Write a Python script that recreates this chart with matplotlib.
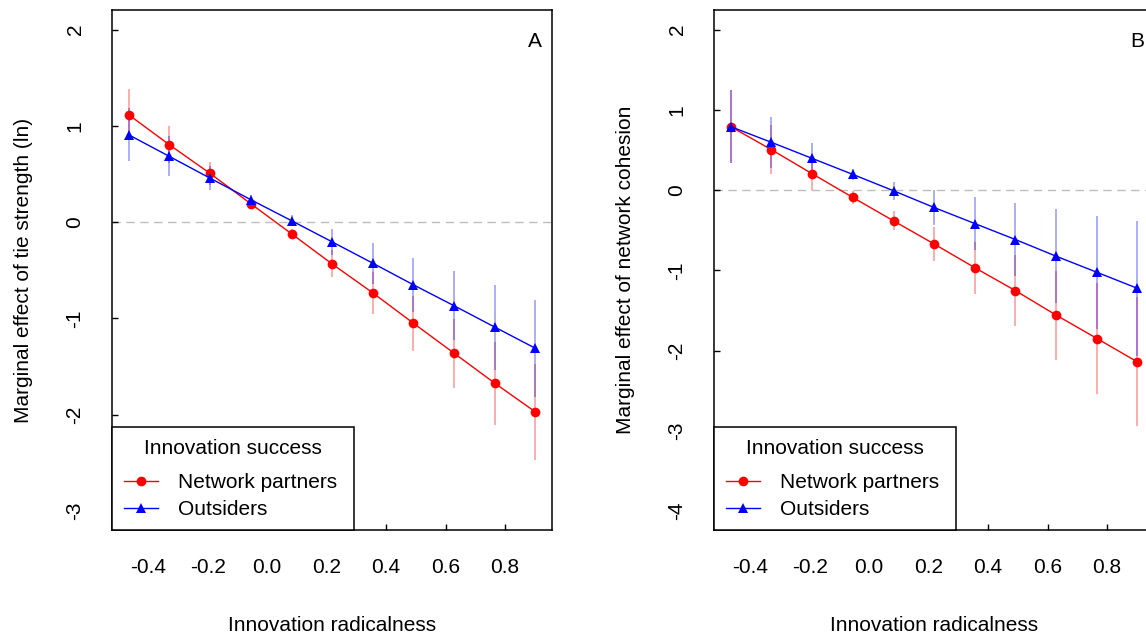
import matplotlib
matplotlib.use("Agg")
import matplotlib.pyplot as plt

plt.rcParams['font.family'] = ['Liberation Sans', 'DejaVu Sans']
plt.rcParams['font.size'] = 15
plt.rcParams['axes.unicode_minus'] = False

# ---------------- data ----------------
radicalness = [-0.466, -0.329, -0.192, -0.055, 0.082, 0.218, 0.355, 0.492, 0.629, 0.766, 0.902]

tie_partners = [1.116, 0.804, 0.506, 0.191, -0.121, -0.433, -0.734, -1.050, -1.362, -1.674, -1.971]
tie_partners_ci = [0.263, 0.190, 0.118, 0.048, 0.055, 0.139, 0.218, 0.283, 0.359, 0.429, 0.499]
tie_outsiders = [0.908, 0.683, 0.457, 0.233, 0.015, -0.204, -0.426, -0.651, -0.869, -1.091, -1.310]
tie_outsiders_ci = [0.277, 0.208, 0.127, 0.050, 0.060, 0.132, 0.212, 0.281, 0.357, 0.440, 0.506]

coh_partners = [0.791, 0.504, 0.204, -0.092, -0.384, -0.671, -0.967, -1.254, -1.559, -1.850, -2.142]
coh_partners_ci = [0.450, 0.304, 0.204, 0.080, 0.120, 0.210, 0.325, 0.442, 0.554, 0.690, 0.804]
coh_outsiders = [0.791, 0.595, 0.395, 0.195, -0.009, -0.217, -0.417, -0.617, -0.825, -1.025, -1.225]
coh_outsiders_ci = [0.450, 0.318, 0.190, 0.070, 0.110, 0.217, 0.333, 0.450, 0.587, 0.704, 0.841]

x_ticks = [-0.4, -0.2, 0.0, 0.2, 0.4, 0.6, 0.8]
x_tick_labels = ["-0.4", "-0.2", "0.0", "0.2", "0.4", "0.6", "0.8"]

series_labels = ["Network partners", "Outsiders"]
legend_title = "Innovation success"
x_label = "Innovation radicalness"

panels = [
    dict(tag="A", ylabel="Marginal effect of tie strength (ln)",
         partners=tie_partners, partners_ci=tie_partners_ci,
         outsiders=tie_outsiders, outsiders_ci=tie_outsiders_ci,
         ylim=(-3, 2), yticks=[-3, -2, -1, 0, 1, 2]),
    dict(tag="B", ylabel="Marginal effect of network cohesion",
         partners=coh_partners, partners_ci=coh_partners_ci,
         outsiders=coh_outsiders, outsiders_ci=coh_outsiders_ci,
         ylim=(-4, 2), yticks=[-4, -3, -2, -1, 0, 1, 2]),
]

W, H = 1146, 637
fig = plt.figure(figsize=(W / 100, H / 100), dpi=100)
fig.patch.set_facecolor("white")

ax_w = 439.4 / W
ax_h = 520.0 / H
ax_b = (H - 530.3) / H
lefts = [112.3 / W, 714.3 / W]

for p, left in zip(panels, lefts):
    ax = fig.add_axes([left, ax_b, ax_w, ax_h])
    x = radicalness
    pr, pc = p["partners"], p["partners_ci"]
    ou, oc = p["outsiders"], p["outsiders_ci"]

    ax.axhline(0, color="#bdbdbd", lw=1.0, dashes=(6, 4), zorder=1)

    ax.vlines(x, [a - b for a, b in zip(pr, pc)], [a + b for a, b in zip(pr, pc)],
              colors="red", alpha=0.38, lw=1.2, zorder=2)
    ax.vlines(x, [a - b for a, b in zip(ou, oc)], [a + b for a, b in zip(ou, oc)],
              colors="blue", alpha=0.38, lw=1.2, zorder=2)

    l1, = ax.plot(x, pr, color="red", lw=1.0, marker="o", markersize=7,
                  markeredgewidth=0, zorder=3, label=series_labels[0])
    l2, = ax.plot(x, ou, color="blue", lw=1.0, marker="^", markersize=7.5,
                  markeredgewidth=0, zorder=4, label=series_labels[1])

    ax.margins(x=0.04)
    lo, hi = p["ylim"]
    ext = 0.04 * (hi - lo)
    ax.set_ylim(lo - ext, hi + ext)

    ax.set_xticks(x_ticks)
    ax.set_xticklabels(x_tick_labels)
    ax.set_yticks(p["yticks"])
    ax.set_yticklabels([str(v) for v in p["yticks"]])

    ax.tick_params(axis="both", direction="in", length=4, width=1.0, colors="black")
    ax.tick_params(axis="x", pad=20)
    ax.tick_params(axis="y", pad=20)
    for lab in ax.get_yticklabels():
        lab.set_rotation(90)
        lab.set_va("center")

    for s in ax.spines.values():
        s.set_linewidth(1.1)
        s.set_color("black")

    ax.set_xlabel(x_label)
    ax.xaxis.label.set_va("baseline")
    ax.xaxis.set_label_coords(0.5, -0.1937)
    ax.set_ylabel(p["ylabel"])
    ax.yaxis.label.set_va("baseline")
    ax.yaxis.set_label_coords(-0.1889, 0.5)

    ax.text(0.9625, 0.930, p["tag"], transform=ax.transAxes, ha="center", va="baseline")

    leg = ax.legend(handles=[l1, l2], labels=series_labels, title=legend_title,
                    loc="lower left", bbox_to_anchor=(0, 0, 242.0 / 439.4, 1),
                    mode="expand", borderaxespad=0, fancybox=False, framealpha=1,
                    edgecolor="black", handlelength=1.65, handletextpad=0.96,
                    borderpad=0.55, labelspacing=0.37, numpoints=1,
                    fontsize=15, title_fontsize=15)
    leg.get_frame().set_linewidth(1.1)
    leg._legend_box.sep = 11

fig.savefig("out.png", dpi=100, facecolor="white")
